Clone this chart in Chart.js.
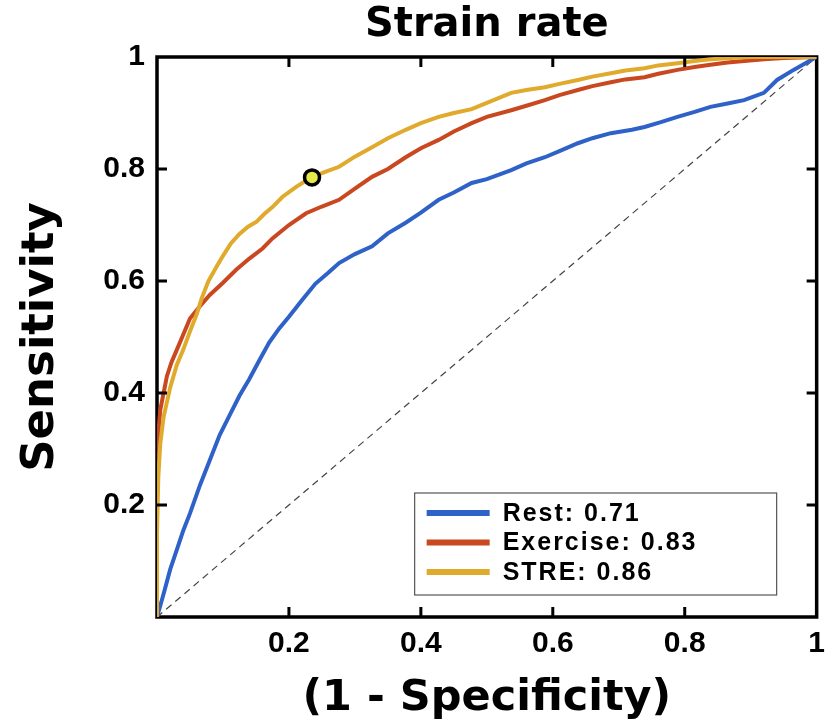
<!DOCTYPE html>
<html>
<head>
<meta charset="utf-8">
<script src="https://cdn.jsdelivr.net/npm/chart.js@4.4.1/dist/chart.umd.min.js"></script>
<style>
  html, body { margin: 0; padding: 0; background: #fff; }
  #wrap { width: 834px; height: 724px; }
</style>
</head>
<body>
<div id="wrap"><canvas id="roc"></canvas></div>
<script>
'use strict';

const SERIES_NAMES = ['Rest', 'Exercise', 'STRE'];
const AUC_VALUES = [0.71, 0.83, 0.86];
const COLORS = ['#2f62c8', '#c9481f', '#e0aa2c'];
const TICK_VALUES = [0, 0.2, 0.4, 0.6, 0.8, 1];

// 1 - specificity / sensitivity
const restFpr = [0, 0.005, 0.012, 0.02, 0.03, 0.04, 0.05, 0.065, 0.08, 0.095, 0.11, 0.125, 0.14, 0.155, 0.17, 0.185, 0.2, 0.22, 0.24, 0.26, 0.276, 0.3, 0.326, 0.35, 0.377, 0.4, 0.427, 0.45, 0.477, 0.5, 0.537, 0.56, 0.588, 0.61, 0.638, 0.66, 0.688, 0.72, 0.739, 0.765, 0.789, 0.815, 0.839, 0.865, 0.89, 0.92, 0.94, 0.965, 0.985, 1];
const restTpr = [0, 0.02, 0.05, 0.085, 0.12, 0.155, 0.185, 0.235, 0.28, 0.325, 0.36, 0.395, 0.425, 0.458, 0.49, 0.515, 0.536, 0.566, 0.595, 0.615, 0.632, 0.648, 0.662, 0.685, 0.704, 0.722, 0.745, 0.758, 0.775, 0.782, 0.798, 0.81, 0.821, 0.832, 0.846, 0.855, 0.864, 0.87, 0.875, 0.884, 0.893, 0.902, 0.911, 0.917, 0.923, 0.936, 0.959, 0.977, 0.99, 1];

const exerciseFpr = [0, 0, 0.002, 0.005, 0.01, 0.015, 0.022, 0.03, 0.04, 0.05, 0.065, 0.08, 0.1, 0.12, 0.14, 0.16, 0.175, 0.2, 0.226, 0.25, 0.276, 0.3, 0.326, 0.35, 0.377, 0.4, 0.427, 0.45, 0.477, 0.5, 0.537, 0.56, 0.588, 0.61, 0.638, 0.66, 0.688, 0.71, 0.739, 0.76, 0.789, 0.815, 0.839, 0.865, 0.89, 0.92, 0.95, 1];
const exerciseTpr = [0, 0.28, 0.33, 0.37, 0.4, 0.43, 0.455, 0.477, 0.505, 0.533, 0.555, 0.575, 0.597, 0.62, 0.64, 0.658, 0.676, 0.7, 0.721, 0.733, 0.745, 0.765, 0.786, 0.8, 0.821, 0.837, 0.852, 0.867, 0.882, 0.893, 0.905, 0.913, 0.923, 0.932, 0.941, 0.948, 0.955, 0.96, 0.964, 0.97, 0.977, 0.982, 0.986, 0.99, 0.993, 0.996, 0.998, 1];

const streFpr = [0, 0, 0.002, 0.005, 0.01, 0.02, 0.03, 0.04, 0.05, 0.06, 0.068, 0.078, 0.09, 0.1, 0.112, 0.125, 0.138, 0.151, 0.163, 0.175, 0.19, 0.211, 0.234, 0.255, 0.276, 0.3, 0.326, 0.35, 0.377, 0.4, 0.427, 0.45, 0.477, 0.5, 0.537, 0.56, 0.588, 0.61, 0.638, 0.66, 0.688, 0.71, 0.739, 0.76, 0.789, 0.815, 0.839, 0.87, 0.9, 1];
const streTpr = [0, 0.15, 0.25, 0.31, 0.357, 0.41, 0.45, 0.478, 0.51, 0.54, 0.57, 0.6, 0.625, 0.645, 0.667, 0.684, 0.697, 0.706, 0.72, 0.732, 0.75, 0.768, 0.785, 0.795, 0.804, 0.822, 0.839, 0.855, 0.87, 0.882, 0.893, 0.9, 0.907, 0.918, 0.936, 0.941, 0.946, 0.952, 0.959, 0.965, 0.971, 0.976, 0.98, 0.985, 0.989, 0.993, 0.996, 0.998, 1, 1];

const chancePoints = [0, 1];
const cutoffPoint = [0.235, 0.785];

const toXY = (xs, ys) => xs.map((x, i) => ({ x, y: ys[i] }));
const curveData = [toXY(restFpr, restTpr), toXY(exerciseFpr, exerciseTpr), toXY(streFpr, streTpr)];

const tickFont = { family: "'Liberation Sans', Arial, sans-serif", weight: 'bold', size: 30 };
const titleFamily = "'DejaVu Sans', 'Liberation Sans', sans-serif";

// MATLAB style box
const boxPlugin = {
  id: 'box',
  beforeDatasetsDraw(chart) {
    const { ctx, chartArea: a } = chart;
    ctx.save();
    ctx.strokeStyle = '#000';
    ctx.lineWidth = 3.5;
    ctx.strokeRect(a.left, a.top, a.right - a.left, a.bottom - a.top);
    ctx.restore();
  },
  // inward tick marks on all four sides
  afterDraw(chart) {
    const { ctx, chartArea: a } = chart;
    const xs = chart.scales.x;
    const ys = chart.scales.y;
    ctx.save();
    ctx.fillStyle = '#000';
    TICK_VALUES.slice(1, -1).forEach(v => {
      const px = xs.getPixelForValue(v);
      const py = ys.getPixelForValue(v);
      ctx.fillRect(px - 1.5, a.bottom - 10, 3, 10);
      ctx.fillRect(px - 1.5, a.top, 3, 10);
      ctx.fillRect(a.left, py - 1.5, 10, 3);
      ctx.fillRect(a.right - 10, py - 1.5, 10, 3);
    });
    ctx.restore();
  }
};

const legendPlugin = {
  id: 'boxLegend',
  afterDraw(chart) {
    const { ctx, chartArea: a } = chart;
    const w = 362, h = 102;
    const left = a.right - 40 - w;
    const top = a.bottom - 22 - h;
    ctx.save();
    ctx.fillStyle = '#fff';
    ctx.fillRect(left, top, w, h);
    ctx.strokeStyle = '#555';
    ctx.lineWidth = 1.2;
    ctx.strokeRect(left, top, w, h);
    ctx.font = "bold 25px 'Liberation Sans', Arial, sans-serif";
    ctx.letterSpacing = '2px';
    ctx.textBaseline = 'middle';
    SERIES_NAMES.forEach((name, i) => {
      const y = top + 20 + i * 29.5;
      ctx.strokeStyle = COLORS[i];
      ctx.lineWidth = 6;
      ctx.beginPath();
      ctx.moveTo(left + 12, y);
      ctx.lineTo(left + 75, y);
      ctx.stroke();
      ctx.fillStyle = '#000';
      ctx.fillText(`${name}: ${AUC_VALUES[i].toFixed(2)}`, left + 88, y + 1);
    });
    ctx.restore();
  }
};

const datasets = SERIES_NAMES.map((name, i) => ({
  label: name,
  data: curveData[i],
  borderColor: COLORS[i],
  borderWidth: 4,
  pointRadius: 0,
  tension: 0,
  order: 3 - i
}));

datasets.push({
  label: 'chance',
  data: toXY(chancePoints, chancePoints),
  borderColor: '#444',
  borderWidth: 1.2,
  borderDash: [7, 5],
  pointRadius: 0,
  order: 10
});

datasets.push({
  label: 'cutoff',
  data: [{ x: cutoffPoint[0], y: cutoffPoint[1] }],
  showLine: false,
  pointRadius: 7.5,
  pointBackgroundColor: '#e4e84a',
  pointBorderColor: '#000',
  pointBorderWidth: 3.5,
  order: 0
});

new Chart(document.getElementById('roc'), {
  type: 'line',
  data: { datasets },
  options: {
    responsive: true,
    maintainAspectRatio: false,
    animation: false,
    layout: { padding: { left: 0, right: 14, top: 0, bottom: 0 } },
    plugins: {
      legend: { display: false },
      tooltip: { enabled: false },
      title: {
        display: true,
        text: 'Strain rate',
        fullSize: false,
        color: '#000',
        font: { family: titleFamily, weight: 'bold', size: 40, lineHeight: 1 },
        padding: { top: 6, bottom: 11 }
      }
    },
    scales: {
      x: {
        type: 'linear',
        min: 0,
        max: 1,
        grid: { display: false, drawTicks: false },
        border: { display: false },
        afterFit: scale => { scale.height = 107; },
        afterBuildTicks: scale => { scale.ticks = TICK_VALUES.map(value => ({ value })); },
        ticks: {
          color: '#000',
          font: tickFont,
          padding: 9,
          maxRotation: 0,
          callback: v => (v === 0 ? '' : String(v))
        },
        title: {
          display: true,
          text: '(1 - Specificity)',
          color: '#000',
          font: { family: titleFamily, weight: 'bold', size: 43, lineHeight: 1 },
          padding: { top: 0, bottom: 3.5 }
        }
      },
      y: {
        type: 'linear',
        min: 0,
        max: 1,
        grid: { display: false, drawTicks: false },
        border: { display: false },
        afterFit: scale => { scale.width = 157; },
        afterBuildTicks: scale => { scale.ticks = TICK_VALUES.map(value => ({ value })); },
        ticks: {
          color: '#000',
          font: tickFont,
          padding: 12,
          callback: v => (v === 0 ? '' : String(v))
        },
        title: {
          display: true,
          text: 'Sensitivity',
          color: '#000',
          font: { family: titleFamily, weight: 'bold', size: 45, lineHeight: 1 },
          padding: { top: 19, bottom: 0 }
        }
      }
    }
  },
  plugins: [boxPlugin, legendPlugin]
});
</script>
</body>
</html>
